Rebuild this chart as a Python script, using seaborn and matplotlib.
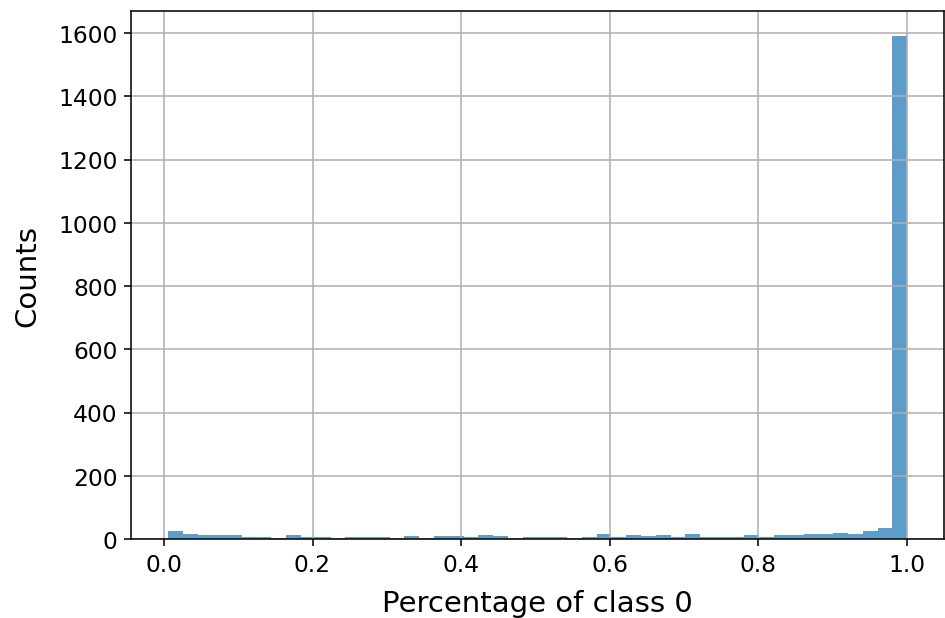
import numpy as np
import pandas as pd
import matplotlib
matplotlib.use("Agg")
import matplotlib.pyplot as plt
import seaborn as sns

plt.rcParams['font.family'] = ['DejaVu Sans']

# 50 bins between the smallest and largest share of class 0
bin_lo = 0.0054
bin_hi = 1.0
n_bins = 50

# counts, one per bin, left to right
counts = [
    26, 16, 12, 12, 12, 7, 7, 3, 13, 7,
    7, 3, 7, 7, 7, 3, 8, 3, 8, 8,
    7, 13, 8, 3, 7, 7, 7, 3, 7, 17,
    7, 13, 8, 12, 7, 16, 7, 7, 7, 12,
    7, 12, 12, 15, 15, 19, 15, 26, 34, 1590,
]

edges = np.linspace(bin_lo, bin_hi, n_bins + 1)
df = pd.DataFrame({"share": (edges[:-1] + edges[1:]) / 2, "n": counts})

fig = plt.figure(figsize=(6.75, 4.421), dpi=140)
ax = fig.add_axes([0.1386, 0.1276, 0.8604, 0.853])

sns.histplot(data=df, x="share", weights="n", bins=n_bins,
             binrange=(bin_lo, bin_hi), ax=ax,
             color="#1f77b4", alpha=0.72, linewidth=0)

ax.grid(True, color="#b0b0b0", linewidth=0.8)
ax.set_axisbelow("line")
ax.set_xticks([0.0, 0.2, 0.4, 0.6, 0.8, 1.0])
ax.set_yticks(range(0, 1601, 200))
ax.tick_params(labelsize=12)
ax.set_xlabel("Percentage of class 0", fontsize=15, labelpad=7)
ax.set_ylabel("Counts", fontsize=15, labelpad=8.5)

fig.savefig("out.png", dpi=140)
plt.close(fig)
